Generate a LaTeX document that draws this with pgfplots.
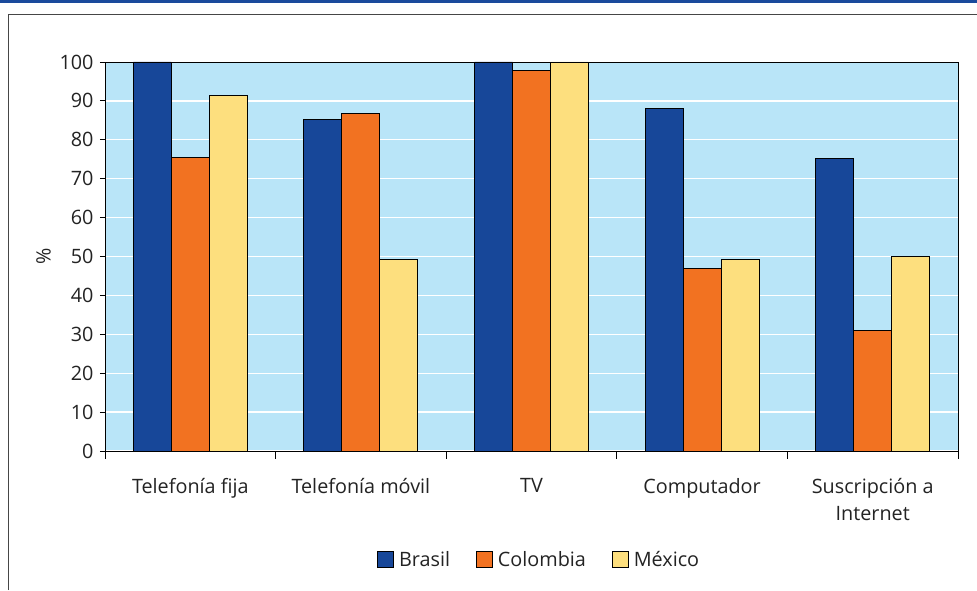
\documentclass[border=0pt]{standalone}
\usepackage{pgfplots}
\pgfplotsset{compat=1.18}
\usepackage{fontspec}
\setmainfont{Open Sans}
\definecolor{cBras}{RGB}{23,71,153}
\definecolor{cCol}{RGB}{242,114,33}
\definecolor{cMex}{RGB}{253,223,126}
\definecolor{bgblue}{RGB}{185,229,248}
\definecolor{topblue}{RGB}{26,74,156}
\definecolor{framegray}{RGB}{70,70,70}
\definecolor{txt}{RGB}{35,35,35}
\pgfplotsset{sqleg/.style={legend image code/.code={\draw[##1,draw=black,line width=0.9pt] (0pt,-8pt) rectangle (16pt,8pt);}}}
\begin{document}
\begin{tikzpicture}[x=1pt,y=1pt]
\useasboundingbox (0,0) rectangle (977,590);
\fill[topblue] (0,587) rectangle (977,590);
\draw[framegray,line width=1.4pt] (8.5,0) -- (8.5,575.5) -- (977,575.5);
\begin{axis}[
  at={(105pt,139pt)}, anchor=south west,
  scale only axis, width=853pt, height=389pt,
  ybar=0pt, bar width=38pt,
  xmin=-0.5, xmax=4.5, ymin=0, ymax=100,
  ytick={0,10,...,100},
  xtick={0,...,4},
  xticklabels={Telefonía fija, Telefonía móvil, TV, Computador, {Suscripción a\\Internet}},
  minor xtick={-0.5,0.5,...,4.5},
  major x tick style={draw=none},
  tick align=outside, xtick pos=lower, ytick pos=left,
  major tick length=5pt, minor tick length=7.5pt,
  tick style={black, line width=0.8pt},
  axis line style={black, line width=0.9pt},
  axis background/.style={fill=bgblue},
  ymajorgrids, grid style={white, line width=1.4pt},
  font=\fontsize{19.8}{26.5}\selectfont,
  /pgf/number format/assume math mode=true,
  xticklabel style={align=center, yshift=-19pt, text=txt, font=\fontsize{19.8}{26.5}\selectfont},
  yticklabel style={xshift=-3pt, text=txt, font=\fontsize{19.8}{26.5}\selectfont},
  ylabel={\%},
  ylabel style={at={(axis description cs:-0.072,0.5)}, anchor=center, text=txt, font=\fontsize{19.8}{26.5}\selectfont},
  legend style={at={(0.509,-0.28)}, anchor=center, draw=none, fill=none,
    legend columns=-1, text=txt, font=\fontsize{19.8}{26.5}\selectfont,
    /tikz/every odd column/.append style={column sep=3pt},
    /tikz/every even column/.append style={column sep=24pt}},
]
\addplot[fill=cBras, draw=black, line width=0.9pt, sqleg] coordinates {(0,100) (1,85.3) (2,100) (3,88.1) (4,75.1)};
\addplot[fill=cCol, draw=black, line width=0.9pt, sqleg] coordinates {(0,75.5) (1,86.7) (2,97.9) (3,46.9) (4,31.0)};
\addplot[fill=cMex, draw=black, line width=0.9pt, sqleg] coordinates {(0,91.3) (1,49.2) (2,100) (3,49.2) (4,50.0)};
\legend{Brasil, Colombia, México}
\end{axis}
\end{tikzpicture}
\end{document}
